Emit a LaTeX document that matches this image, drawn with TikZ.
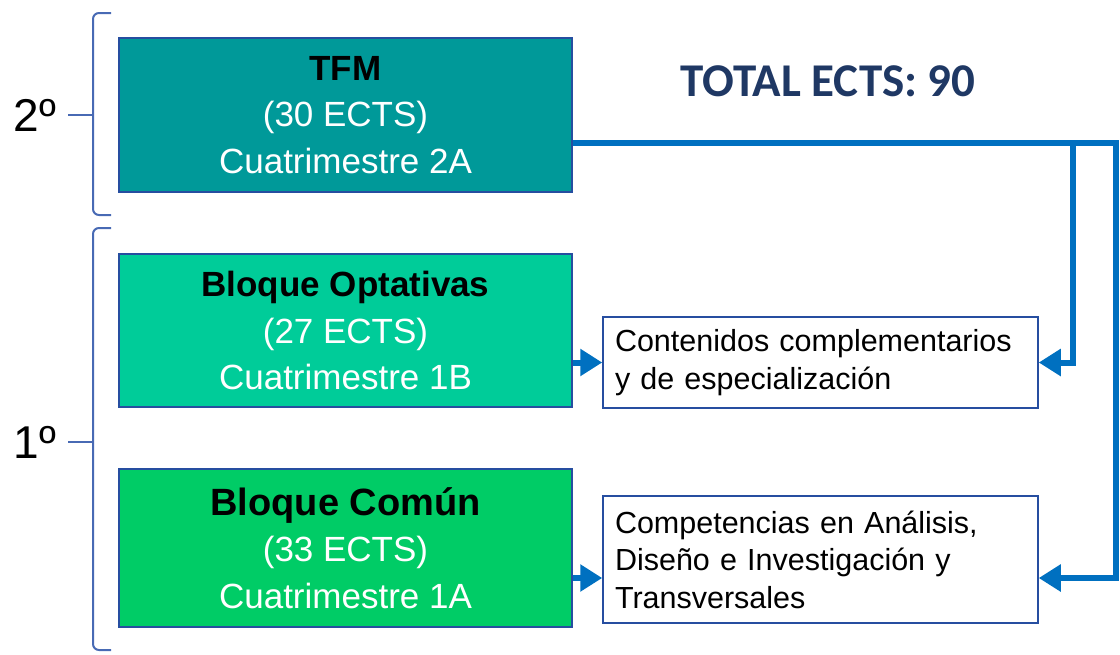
\documentclass[tikz,border=0pt]{standalone}
\usepackage{fontspec}
\setmainfont{Liberation Sans}
\newfontfamily\carlito{Carlito}
\usepackage{xcolor}
\usetikzlibrary{arrows.meta}

\definecolor{tfmteal}{RGB}{0,153,153}
\definecolor{optgreen}{RGB}{0,204,153}
\definecolor{comgreen}{RGB}{0,204,102}
\definecolor{boxline}{RGB}{38,78,160}
\definecolor{arrowblue}{RGB}{0,112,192}
\definecolor{bracecol}{RGB}{72,106,180}
\definecolor{totalnavy}{RGB}{31,56,100}

\begin{document}
\begin{tikzpicture}[x=1pt,y=-1pt]
\tikzset{block/.style={draw=boxline,line width=1.5pt,minimum width=453pt,inner sep=2pt,align=center,text=white,font=\fontsize{35}{46.5}\selectfont}}
\tikzset{note/.style={draw=boxline,line width=1.5pt,fill=white,text width=411pt,inner xsep=12pt,inner ysep=2pt,align=left,font=\fontsize{30.5}{37.5}\selectfont}}
\tikzset{link/.style={arrowblue,line width=6pt,-{Triangle[length=22pt,width=26pt]}}}
\tikzset{brace/.style={bracecol,line width=2pt,rounded corners=6pt}}

\useasboundingbox (0,0) rectangle (1120,654);

\node[block,fill=tfmteal,minimum height=154pt] (tfm) at (345.5,115) {\textbf{\color{black}TFM}\\(30 ECTS)\\Cuatrimestre 2A};
\node[block,fill=optgreen,minimum height=153pt] (opt) at (345.5,330.5) {\textbf{\color{black}Bloque Optativas}\\(27 ECTS)\\Cuatrimestre 1B};
\node[block,fill=comgreen,minimum height=158pt] (com) at (345.5,548) {\textbf{\color{black}\fontsize{38}{46.5}\selectfont Bloque Común}\\(33 ECTS)\\Cuatrimestre 1A};

\node[note,minimum height=91pt] (cont) at (820.5,362.5) {Contenidos complementarios\\y de especialización};
\node[note,minimum height=127pt] (comp) at (820.5,559.5) {Competencias en Análisis,\\Diseño e Investigación y\\Transversales};

\node[font=\carlito\bfseries\fontsize{47}{47}\selectfont,text=totalnavy] (total) at (828,81) {TOTAL ECTS: 90};

\node[font=\fontsize{46}{46}\selectfont] (yr2) at (35,115) {2º};
\node[font=\fontsize{46}{46}\selectfont] (yr1) at (35,442) {1º};

\draw[brace] (111,13) -- (93,13) -- (93,215) -- (111,215);
\draw[brace] (93,115) -- (68,115);
\draw[brace] (111,228) -- (93,228) -- (93,650) -- (111,650);
\draw[brace] (93,442) -- (68,442);

\coordinate (rt) at (1116,143);
\coordinate (rb) at (1116,578);
\coordinate (br) at (1073,143);

\draw[link] (opt.east |- cont.west) -- (cont.west);
\draw[link] (com.east |- rb) -- (comp.west |- rb);
\draw[link] (tfm.east |- rt) -- (rt) -- (rb) -- (comp.east |- rb);
\draw[link] (br) -- (br |- cont.east) -- (cont.east);

\end{tikzpicture}
\end{document}
